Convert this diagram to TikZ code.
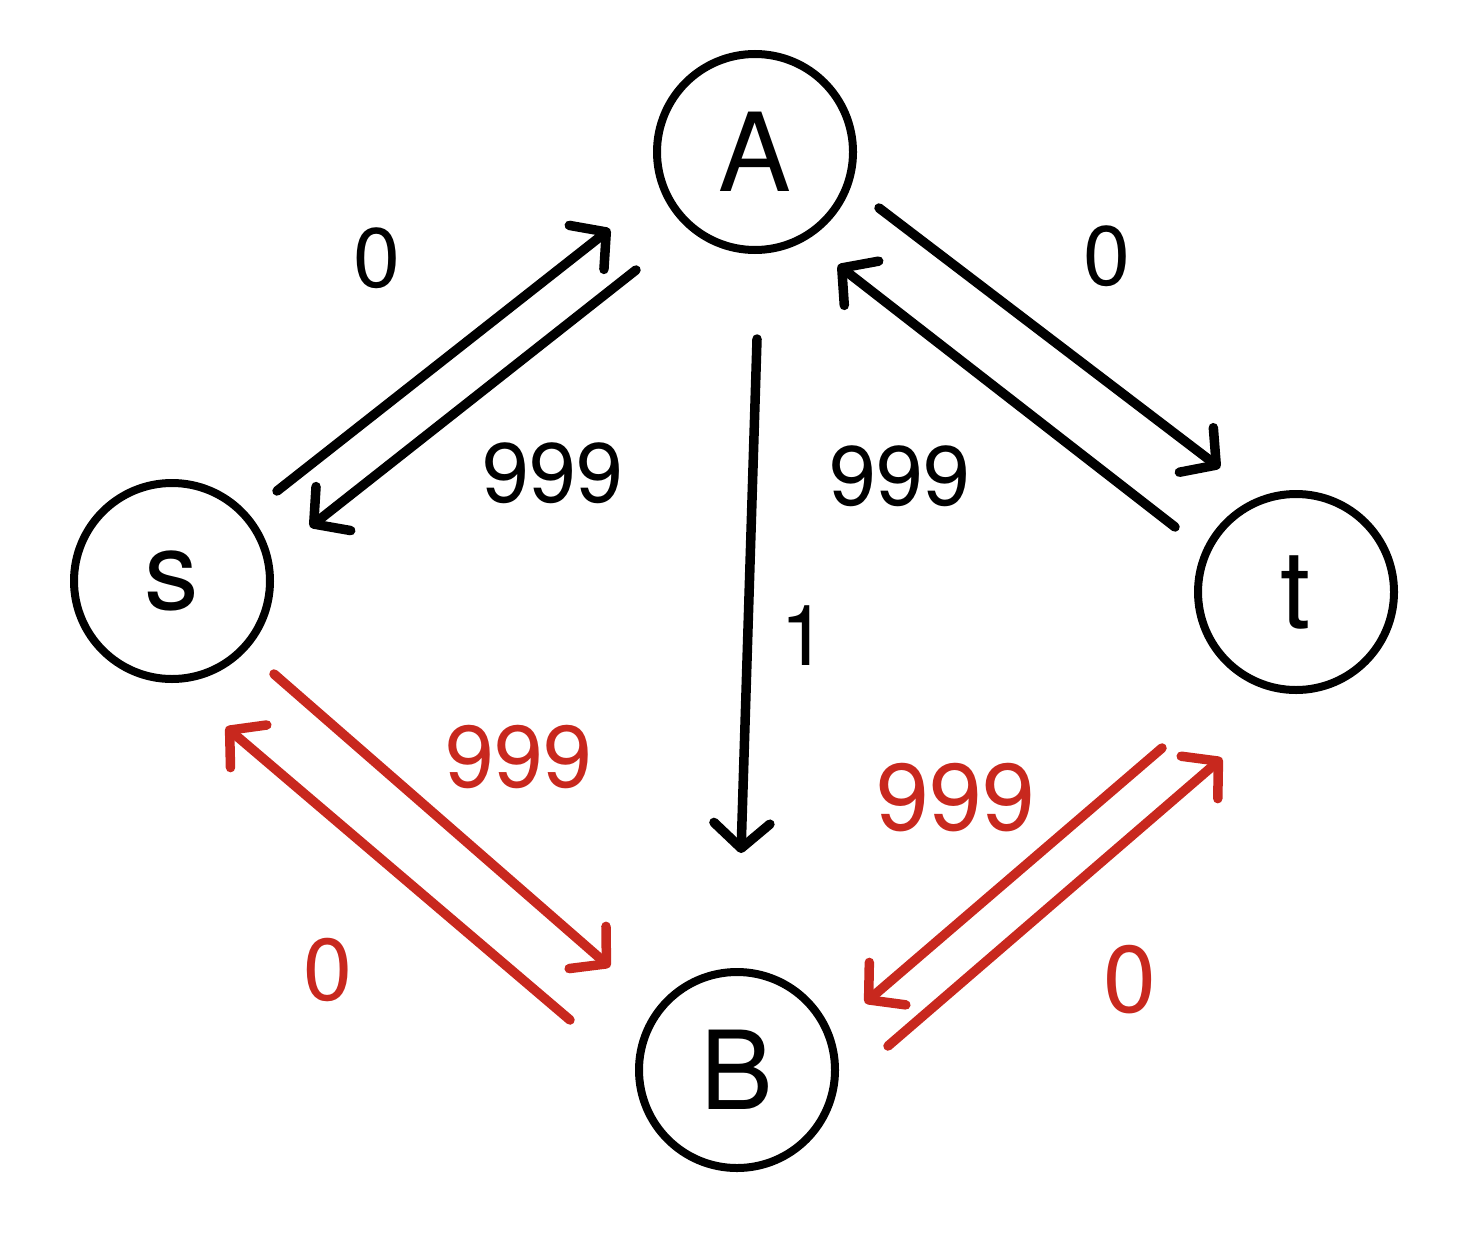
\documentclass[tikz,border=0pt]{standalone}
\usepackage{fontspec}
\setmainfont{TeX Gyre Heros}
\usetikzlibrary{arrows.meta}
\definecolor{flowred}{RGB}{200,40,30}
\begin{document}
\begin{tikzpicture}[x=0.1mm,y=-0.1mm,
  vertex/.style={circle,draw,line width=0.8mm,minimum size=19.6mm,inner sep=0pt,font=\fontsize{31}{35}\selectfont},
  edge/.style={line width=0.95mm,line cap=round,-{Straight Barb[length=2.5mm,width=5.6mm,round]}},
  weight/.style={font=\fontsize{24}{28}\selectfont,inner sep=0pt}]
\useasboundingbox (0,0) rectangle (1469,1249);
% vertices
\node[vertex] (A) at (755,152) {A};
\node[vertex] (s) at (172,581) {s};
\node[vertex] (t) at (1296,592) {t};
\node[vertex] (B) at (737,1070) {B};
% end points of the edges
\coordinate (sA1) at (277,491);  \coordinate (sA2) at (610,229);
\coordinate (As1) at (636,270);  \coordinate (As2) at (310,527);
\coordinate (At1) at (879,208);  \coordinate (At2) at (1220,468);
\coordinate (tA1) at (1175,527); \coordinate (tA2) at (838,265);
\coordinate (AB1) at (757,339);  \coordinate (AB2) at (741,853);
\coordinate (sB1) at (274,674);  \coordinate (sB2) at (610,967);
\coordinate (Bs1) at (570,1020); \coordinate (Bs2) at (226,727);
\coordinate (tB1) at (1162,748); \coordinate (tB2) at (865,1003);
\coordinate (Bt1) at (888,1046); \coordinate (Bt2) at (1222,758);
% black edges
\draw[edge] (sA1) -- (sA2);
\draw[edge] (As1) -- (As2);
\draw[edge] (At1) -- (At2);
\draw[edge] (tA1) -- (tA2);
\draw[edge] (AB1) -- (AB2);
% red edges
\draw[edge,flowred] (sB1) -- (sB2);
\draw[edge,flowred] (Bs1) -- (Bs2);
\draw[edge,flowred] (tB1) -- (tB2);
\draw[edge,flowred] (Bt1) -- (Bt2);
% weights
\node[weight] (w1) at (377,258) {0};
\node[weight] (w2) at (553,473) {999};
\node[weight] (w3) at (1107,256) {0};
\node[weight] (w4) at (900,476) {999};
\node[weight] (w5) at (804,636) {1};
\node[weight,text=flowred,font=\fontsize{25}{29}\selectfont] (w6) at (519,757) {999};
\node[weight,text=flowred,font=\fontsize{27}{31}\selectfont] (w7) at (956,798) {999};
\node[weight,text=flowred,font=\fontsize{25}{29}\selectfont] (w8) at (328,970) {0};
\node[weight,text=flowred,font=\fontsize{27}{31}\selectfont] (w9) at (1130,980) {0};
\end{tikzpicture}
\end{document}
